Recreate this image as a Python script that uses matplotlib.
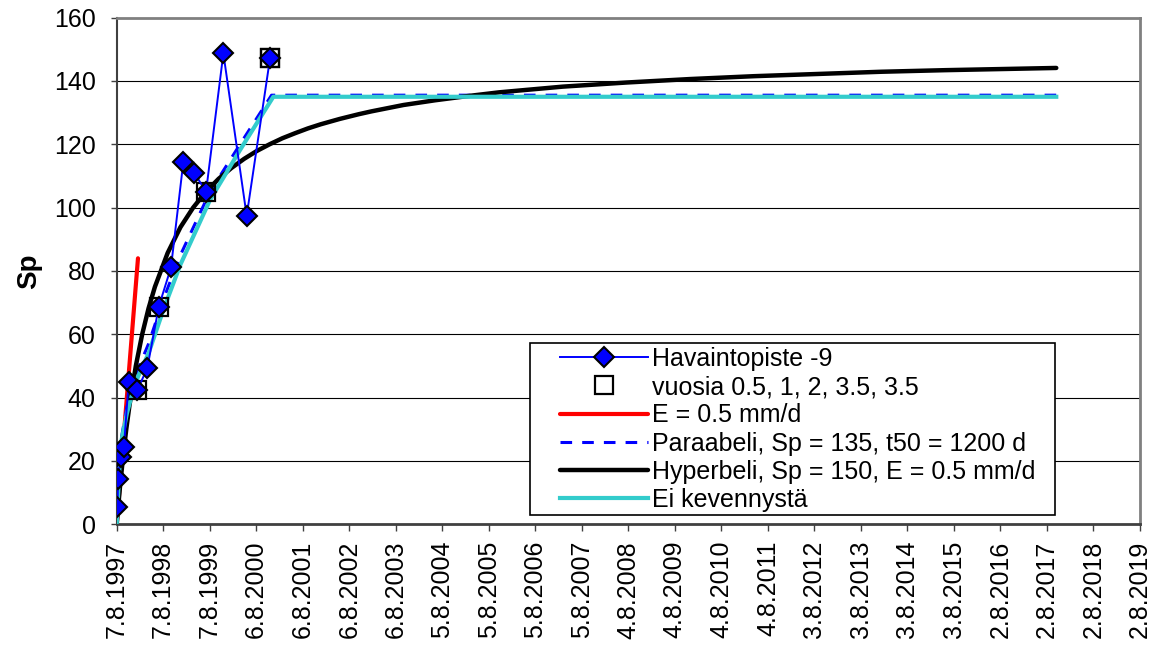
import matplotlib
matplotlib.use("Agg")
import matplotlib.pyplot as plt
from matplotlib.patches import Rectangle

# ---------------- data (x = days since 7.8.1997) ----------------
obs_days = [0, 5, 10, 31, 57, 94, 162, 240, 330, 426, 523, 609, 701, 837, 1020, 1203]
obs_vals = [21.6, 5.6, 14.2, 21.2, 24.5, 45.0, 42.4, 49.3, 68.7, 81.1, 114.5, 111.0, 105.0, 148.7, 97.4, 147.1]

sq_days = [162, 330, 701, 1203, 1203]
sq_vals = [42.4, 68.7, 105.0, 147.1, 147.1]

red_days = [0, 167]
red_vals = [0, 84]

para_days = [0, 20, 40, 80, 120, 167, 250, 366, 500, 732, 968, 1215, 7373]
para_vals = [0, 18, 28, 37, 43, 49, 57, 71, 85, 105, 120, 135.5, 135.5]

hyp_days = [0, 10, 25, 50, 75, 100, 150, 200, 250, 300, 400, 500, 600, 700, 800, 900,
            1000, 1100, 1200, 1300, 1400, 1500, 1600, 1750, 1900, 2000, 2250, 2500,
            2750, 3000, 3250, 3500, 4000, 4500, 5000, 5500, 6000, 6500, 7373]
hyp_vals = [0, 4.8, 11.5, 21.4, 30.0, 37.5, 50.0, 60.0, 68.2, 75.0, 85.7, 93.8, 100.0,
            105.0, 109.1, 112.5, 115.4, 117.9, 120.0, 121.9, 123.5, 125.0, 126.3, 128.0,
            129.5, 130.4, 132.4, 133.9, 135.2, 136.4, 137.3, 138.2, 139.5, 140.6, 141.5,
            142.2, 142.9, 143.4, 144.1]

cyan_days = [0, 20, 40, 80, 120, 167, 250, 366, 500, 732, 968, 1229, 7373]
cyan_vals = [0, 17, 27, 35, 41, 46.6, 54, 67.7, 82, 102.4, 118.2, 135, 135]

tick_labels = ['7.8.1997', '7.8.1998', '7.8.1999', '6.8.2000', '6.8.2001', '6.8.2002',
               '6.8.2003', '5.8.2004', '5.8.2005', '5.8.2006', '5.8.2007', '4.8.2008',
               '4.8.2009', '4.8.2010', '4.8.2011', '3.8.2012', '3.8.2013', '3.8.2014',
               '3.8.2015', '2.8.2016', '2.8.2017', '2.8.2018', '2.8.2019']
tick_step = 365
y_ticks = [0, 20, 40, 60, 80, 100, 120, 140, 160]

labels = ['Havaintopiste -9', 'vuosia 0.5, 1, 2, 3.5, 3.5', 'E = 0.5 mm/d',
          'Paraabeli, Sp = 135, t50 = 1200 d', 'Hyperbeli, Sp = 150, E = 0.5 mm/d',
          'Ei kevennystä']

# ---------------- figure ----------------
plt.rcParams['font.family'] = ['Liberation Sans', 'DejaVu Sans']
W, H = 1157, 652
fig = plt.figure(figsize=(W / 100, H / 100), dpi=100)
AX_L, AX_R, AX_T, AX_B = 116.7, 1140.0, 17.6, 524.3
ax = fig.add_axes([AX_L / W, 1 - AX_B / H, (AX_R - AX_L) / W, (AX_B - AX_T) / H])

xt = [i * tick_step for i in range(len(tick_labels))]
ax.set_xlim(xt[0], xt[-1])
ax.set_ylim(0, 160)

for yv in y_ticks[1:-1]:
    ax.axhline(yv, color='black', lw=0.8, zorder=1)

blue = '#0000FF'
l_red, = ax.plot(red_days, red_vals, color='#FF0000', lw=3.0, solid_capstyle='round', zorder=3)
l_para, = ax.plot(para_days, para_vals, color=blue, lw=2.2, dashes=(3.8, 3.3), zorder=3)
l_hyp, = ax.plot(hyp_days, hyp_vals, color='black', lw=3.2, solid_capstyle='round',
                 solid_joinstyle='round', zorder=4)
l_cyan, = ax.plot(cyan_days, cyan_vals, color='#33CCCC', lw=3.0, zorder=5)
l_obs, = ax.plot(obs_days, obs_vals, color=blue, lw=1.4, marker='D', ms=10,
                 mfc=blue, mec='black', mew=1.5, zorder=8)
l_sq, = ax.plot(sq_days, sq_vals, ls='none', marker='s', ms=13.5, mfc='none',
                mec='black', mew=1.6, zorder=7)

ax.set_xticks(xt)
ax.set_xticklabels(tick_labels, rotation=90, fontsize=18)
ax.set_yticks(y_ticks)
ax.set_yticklabels([str(v) for v in y_ticks], fontsize=18)
ax.tick_params(axis='x', length=5, width=1, color='#404040', pad=7)
ax.tick_params(axis='y', length=4, width=1, color='#404040', pad=11)

for s in ['top', 'right']:
    ax.spines[s].set_color('#808080')
    ax.spines[s].set_linewidth(2)
ax.spines['left'].set_color('#404040')
ax.spines['left'].set_linewidth(1.5)
ax.spines['bottom'].set_color('#404040')
ax.spines['bottom'].set_linewidth(2)

fig.text(29 / W, 1 - 271 / H, 'Sp', rotation=90, fontsize=20, fontweight='bold',
         ha='center', va='center')

# legend frame drawn separately (Excel-style wide padding)
LG_L, LG_R, LG_T, LG_B = 530, 1055, 343, 515
fig.patches.append(Rectangle((LG_L / W, 1 - LG_B / H), (LG_R - LG_L) / W, (LG_B - LG_T) / H,
                             transform=fig.transFigure, facecolor='white',
                             edgecolor='black', lw=1.2, zorder=9))
leg = fig.legend([l_obs, l_sq, l_red, l_para, l_hyp, l_cyan], labels,
                 loc='lower left', bbox_to_anchor=(560 / W, 1 - 512 / H),
                 fontsize=18, frameon=False, numpoints=1,
                 handlelength=3.5, handletextpad=0.16, labelspacing=0.17,
                 borderpad=0, borderaxespad=0)
leg.set_zorder(10)

fig.savefig('out.png', dpi=100)
